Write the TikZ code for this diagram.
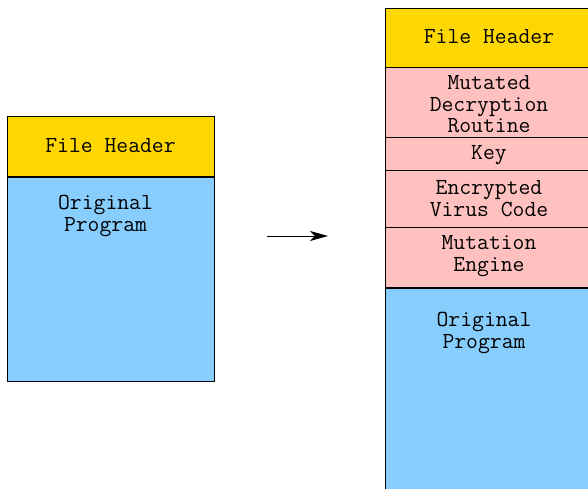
\documentclass[tikz,border=0pt]{standalone}
\usepackage{fontspec}
\usetikzlibrary{arrows.meta}
\definecolor{hdr}{HTML}{FFD700}
\definecolor{pinkc}{HTML}{FFC0C0}
\definecolor{bluec}{HTML}{87CEFF}
\tikzset{
  blk/.style={draw=black, line width=1bp, rectangle, inner sep=0pt, outer sep=0pt, anchor=north west},
  lbl/.style={font=\ttfamily\fontsize{23bp}{21.5bp}\selectfont, align=center, inner sep=0pt},
}
\begin{document}
\begin{tikzpicture}[x=1bp,y=-1bp]
\useasboundingbox (0,0) rectangle (588,489);
\clip (0,0) rectangle (588,489);
% left stack
\node[blk, fill=hdr, minimum width=207bp, minimum height=60bp] (lh) at (7,117) {};
\node[blk, fill=bluec, minimum width=207bp, minimum height=204bp] (lb) at (7,177) {};
\draw[line width=1.6bp] (lh.south west) -- (lh.south east);
\node[lbl] (lht) at (110.5,146) {File Header};
\node[lbl, anchor=north] (lbt) at (105.5,195) {Original\\Program};
% right stack
\node[blk, fill=hdr, minimum width=208bp, minimum height=59bp] (rh) at (385,9) {};
\node[blk, fill=pinkc, minimum width=208bp, minimum height=70bp] (rm) at (385,68) {};
\node[blk, fill=pinkc, minimum width=208bp, minimum height=33bp] (rk) at (385,138) {};
\node[blk, fill=pinkc, minimum width=208bp, minimum height=56bp] (re) at (385,171) {};
\node[blk, fill=pinkc, minimum width=208bp, minimum height=61bp] (rg) at (385,227) {};
\node[blk, fill=bluec, minimum width=208bp, minimum height=215bp] (ro) at (385,288) {};
\draw[line width=1.6bp] (rg.south west) -- (rg.south east);
\node[lbl] (rht) at (489,37) {File Header};
\node[lbl] (rmt) at (489,104.5) {Mutated\\Decryption\\Routine};
\node[lbl] (rkt) at (489,155) {Key};
\node[lbl] (ret) at (489,198.5) {Encrypted\\Virus Code};
\node[lbl] (rgt) at (489,256) {Mutation\\Engine};
\node[lbl, anchor=north] (rot) at (484,312) {Original\\Program};
% arrow
\coordinate (a1) at (267,236);
\coordinate (a2) at (328,236);
\draw[line width=1bp, -{Stealth[length=18bp, width=10bp, inset=5bp]}] (a1) -- (a2);
\end{tikzpicture}
\end{document}
